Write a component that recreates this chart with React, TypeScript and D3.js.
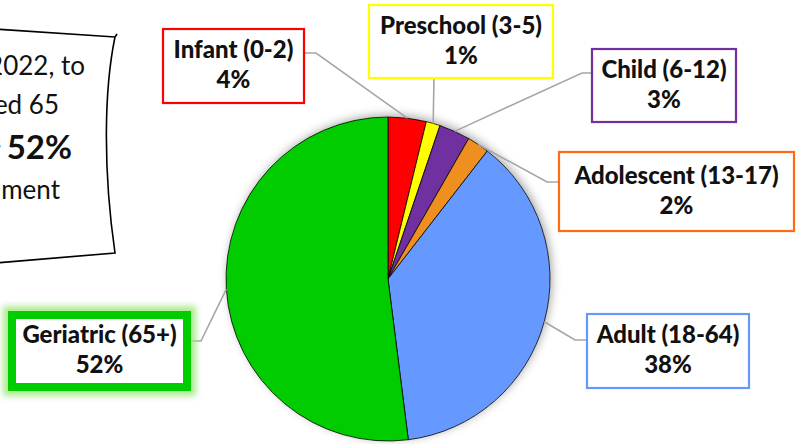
import React, { useEffect, useRef } from 'react';
import * as d3 from 'd3';

// age groups, clockwise from 12 o'clock
const categories = ['Infant (0-2)', 'Preschool (3-5)', 'Child (6-12)', 'Adolescent (13-17)', 'Adult (18-64)', 'Geriatric (65+)'];
const shares = [3.8, 1.4, 3.1, 2.2, 37.5, 52.0];
const sliceColors = ['#ff0000', '#ffff00', '#7030a0', '#ee8f1f', '#6699ff', '#00cc00'];
const boxColors = ['#ff0000', '#ffff00', '#7030a0', '#ff6a13', '#6699ff', '#00cc00'];

// callout text on the left (cut off by the frame)
const noteLines = ['In FY 2022, to', 'patients aged 65', 'accounted for ', 'of enrollment'];
const noteStat = '52%';

// label boxes: x, y, w, h and elbow of the leader line
const boxes = [
  { x: 163, y: 29, w: 141, h: 74, ex: 316, ey: 53, side: 'right' },
  { x: 369, y: 5, w: 184, h: 73, ex: 434, ey: 78, side: 'bottom' },
  { x: 592, y: 49, w: 144, h: 73, ex: 582, ey: 73, side: 'left' },
  { x: 559, y: 152, w: 235, h: 79, ex: 547, ey: 182, side: 'left' },
  { x: 587, y: 314, w: 162, h: 74, ex: 575, ey: 340, side: 'left' },
  { x: 12, y: 315, w: 175, h: 72, ex: 201, ey: 341, side: 'right' },
];

const App = () => {
  const ref = useRef<SVGSVGElement>(null);

  useEffect(() => {
    const svg = d3.select(ref.current);
    svg.selectAll('*').remove();

    const width = 801, height = 444;
    const cx = 388, cy = 279, r = 162;
    const font = 'Lato, Calibri, "DejaVu Sans", sans-serif';

    const defs = svg.append('defs');
    const sh = defs.append('filter').attr('id', 'pieShadow')
      .attr('x', '-20%').attr('y', '-20%').attr('width', '140%').attr('height', '140%');
    sh.append('feDropShadow').attr('dx', 2).attr('dy', -2).attr('stdDeviation', 5)
      .attr('flood-color', '#000').attr('flood-opacity', 0.35);
    const glow = defs.append('filter').attr('id', 'glow')
      .attr('filterUnits', 'userSpaceOnUse')
      .attr('x', 0).attr('y', 290).attr('width', 215).attr('height', 125);
    glow.append('feMorphology').attr('in', 'SourceAlpha').attr('operator', 'dilate').attr('radius', 5).attr('result', 'd');
    glow.append('feGaussianBlur').attr('in', 'd').attr('stdDeviation', 3).attr('result', 'b');
    glow.append('feFlood').attr('flood-color', '#9ee67e').attr('flood-opacity', 0.85).attr('result', 'f');
    glow.append('feComposite').attr('in', 'f').attr('in2', 'b').attr('operator', 'in').attr('result', 'g');
    const m = glow.append('feMerge');
    m.append('feMergeNode').attr('in', 'g');
    m.append('feMergeNode').attr('in', 'SourceGraphic');

    svg.append('rect').attr('width', width).attr('height', height).attr('fill', '#fff');

    // note callout
    const note = svg.append('g');
    note.append('path')
      .attr('d', 'M-5,29 L115,37 L117,34 M115,37 C104,90 103,170 115,253 L-5,263')
      .attr('fill', '#fff').attr('stroke', '#000').attr('stroke-width', 1.6);
    const baselines = [75, 114, 159, 199];
    const ends = [85, 59, 72, 60];
    noteLines.forEach((t, i) => {
      const tx = note.append('text').attr('x', ends[i]).attr('y', baselines[i])
        .attr('text-anchor', 'end').attr('font-family', font).attr('font-size', 26).attr('fill', '#111');
      tx.append('tspan').text(t);
      if (i === 2) tx.append('tspan').attr('font-weight', 'bold').attr('font-size', 33).text(noteStat);
    });

    // pie
    const pie = d3.pie<number>().sort(null).value(d => d);
    const arcs = pie(shares);
    const arc = d3.arc<d3.PieArcDatum<number>>().innerRadius(0).outerRadius(r);

    const g = svg.append('g').attr('transform', `translate(${cx},${cy})`);
    g.append('circle').attr('r', r).attr('fill', '#fff').attr('filter', 'url(#pieShadow)');
    g.selectAll('path.slice').data(arcs).enter().append('path')
      .attr('class', 'slice')
      .attr('d', arc)
      .attr('fill', (_, i) => sliceColors[i])
      .attr('stroke', '#000').attr('stroke-width', 0.8);

    // leader lines
    arcs.forEach((a, i) => {
      const b = boxes[i];
      const mid = (a.startAngle + a.endAngle) / 2;
      const px = cx + r * Math.sin(mid);
      const py = cy - r * Math.cos(mid);
      let bx = b.ex, by = b.ey;
      if (b.side === 'left') bx = b.x;
      else if (b.side === 'right') bx = b.x + b.w + (i === 5 ? 4 : 0);
      else by = b.y + b.h;
      svg.append('polyline')
        .attr('points', `${px},${py} ${b.ex},${b.ey} ${bx},${by}`)
        .attr('fill', 'none').attr('stroke', '#a6a6a6').attr('stroke-width', 1.6);
    });

    // label boxes
    categories.forEach((c, i) => {
      const b = boxes[i];
      const isGer = i === 5;
      svg.append('rect')
        .attr('x', b.x).attr('y', b.y).attr('width', b.w).attr('height', b.h)
        .attr('fill', '#fff').attr('stroke', boxColors[i])
        .attr('stroke-width', isGer ? 8 : 2.2)
        .attr('filter', isGer ? 'url(#glow)' : null);
      const mx = b.x + b.w / 2;
      const my = b.y + b.h / 2;
      const t = svg.append('text').attr('text-anchor', 'middle')
        .attr('font-family', font).attr('font-weight', 900).attr('font-size', 24).attr('fill', '#111');
      t.append('tspan').attr('x', mx).attr('y', my - 8).text(c);
      t.append('tspan').attr('x', mx).attr('y', my + 22).text(`${Math.round(shares[i])}%`);
    });
  }, []);

  return (
    <svg ref={ref} width={801} height={444}
      style={{ position: 'absolute', left: 0, top: 0, display: 'block' }} />
  );
};

export default App;
